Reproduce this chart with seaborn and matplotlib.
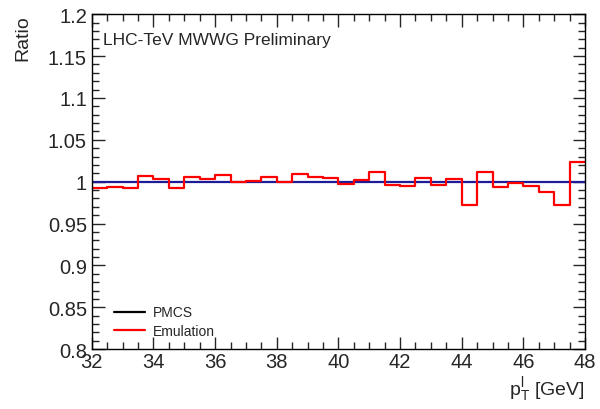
import numpy as np
import pandas as pd
import matplotlib
matplotlib.use("Agg")
import matplotlib.pyplot as plt
from matplotlib.lines import Line2D
from matplotlib.ticker import MultipleLocator
import seaborn as sns

# data
bin_edges = [32 + 0.5 * i for i in range(33)]
emulation = [0.992, 0.994, 0.993, 1.007, 1.003, 0.993, 1.005, 1.003,
             1.008, 1.000, 1.001, 1.006, 0.999, 1.009, 1.006, 1.004,
             0.997, 1.002, 1.011, 0.996, 0.995, 1.004, 0.996, 1.003,
             0.972, 1.012, 0.994, 0.998, 0.995, 0.988, 0.972, 1.024]
pmcs_x = [32, 48]
pmcs_y = [1.0, 1.0]

sns.set_style("ticks")
plt.rcParams['font.family'] = ['Liberation Sans', 'DejaVu Sans']
plt.rcParams['mathtext.fontset'] = 'custom'
plt.rcParams['mathtext.rm'] = 'Liberation Sans'
plt.rcParams['mathtext.it'] = 'Liberation Sans:italic'

fig = plt.figure(figsize=(6, 4.1), dpi=100)
ax = fig.add_axes([0.153, 0.146, 0.822, 0.817])

df_e = pd.DataFrame({"x": bin_edges, "y": emulation + [emulation[-1]]})
df_p = pd.DataFrame({"x": pmcs_x, "y": pmcs_y})

sns.lineplot(data=df_p, x="x", y="y", ax=ax, color="#1c1c9a", lw=1.6,
             estimator=None, sort=False)
sns.lineplot(data=df_e, x="x", y="y", ax=ax, color="#ff0000", lw=1.6,
             estimator=None, sort=False, drawstyle="steps-post")

ax.set_xlim(32, 48)
ax.set_ylim(0.8, 1.2)
ax.xaxis.set_major_locator(MultipleLocator(2))
ax.xaxis.set_minor_locator(MultipleLocator(0.5))
ax.yaxis.set_major_locator(MultipleLocator(0.05))
ax.yaxis.set_minor_locator(MultipleLocator(0.01))
ax.yaxis.set_major_formatter(plt.FuncFormatter(lambda v, p: ('%.3f' % v).rstrip('0').rstrip('.')))
ax.tick_params(which='both', direction='in', top=True, right=True, labelsize=14.5, width=1)
ax.tick_params(which='major', length=9)
ax.tick_params(which='minor', length=5)
ax.tick_params(axis='x', pad=2)
for s in ax.spines.values():
    s.set_linewidth(1)
    s.set_color('black')

ax.set_xlabel(r"$\mathrm{p}_{\mathrm{T}}^{\mathrm{l}}$ [GeV]", fontsize=14, loc='right', labelpad=2)
ax.set_ylabel("Ratio", fontsize=14, loc='top', labelpad=12)

ax.text(0.022, 0.925, "LHC-TeV MWWG Preliminary", transform=ax.transAxes,
        fontsize=12.5, va='center', ha='left')

handles = [Line2D([], [], color='black', lw=1.6), Line2D([], [], color='#ff0000', lw=1.6)]
ax.legend(handles, ["PMCS", "Emulation"], loc='lower left', bbox_to_anchor=(0.02, -0.005),
          frameon=False, fontsize=10, handlelength=2.2, handletextpad=0.6, labelspacing=0.35)

fig.savefig("out.png", dpi=100)
